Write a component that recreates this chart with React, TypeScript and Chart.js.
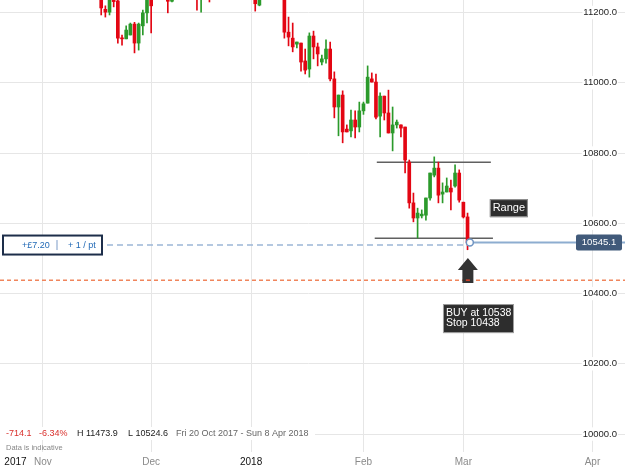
import React, { useEffect, useRef } from 'react';
import { Chart, registerables } from 'chart.js';

Chart.register(...registerables);

const FONT = "'Liberation Sans', Arial, Helvetica, sans-serif";

// Daily candles, Fri 20 Oct 2017 onwards (one slot per trading session)
const opens = [
  11259.2, 11290, 11326, 11312, 11365, 11394, 11380, 11420, 11452, 11430,
  11405, 11422, 11392, 11366, 11388, 11350, 11322, 11346, 11315, 11332,
  11294, 11308, 11275, 11288, 11278, 11209, 11201, 11248, 11233, 11127,
  11125, 11136, 11167, 11113, 11162, 11199, 11262, 11250, 11282, 11298,
  11265, 11232, 11276, 11312, 11302, 11334, 11310, 11280, 11248, 11285,
  11305, 11252, 11290, 11326, 11318, 11336, 11355, 11342, 11312, 11288,
  11270, 11262, 11221, 11268, 11300, 11282, 11315, 11292, 11262, 11144,
  11127, 11110, 11113, 11062, 11039, 11133, 11102, 11059, 11068, 11096,
  11011, 10931, 10965, 10868, 10863, 10894, 10874, 10920, 10942, 11011,
  11002, 10905, 10962, 10914, 10857, 10880, 10880, 10874, 10774, 10658,
  10615, 10621, 10623, 10672, 10737, 10757, 10683, 10689, 10700, 10706,
  10743, 10660, 10618,
];
const highs = [
  11298, 11335, 11345, 11372, 11402, 11410, 11428, 11473.9, 11465, 11442,
  11430, 11436, 11410, 11395, 11398, 11362, 11355, 11360, 11340, 11344,
  11318, 11315, 11296, 11300, 11284, 11219, 11262, 11258, 11245, 11136,
  11162, 11170, 11172, 11170, 11207, 11268, 11275, 11290, 11310, 11305,
  11278, 11285, 11320, 11330, 11340, 11352, 11322, 11296, 11290, 11318,
  11310, 11298, 11335, 11350, 11342, 11368, 11372, 11356, 11330, 11305,
  11285, 11270, 11280, 11312, 11318, 11325, 11330, 11300, 11270, 11187,
  11170, 11116, 11113, 11096, 11142, 11147, 11113, 11079, 11122, 11116,
  11031, 10965, 10977, 10880, 10922, 10920, 10945, 10945, 11048, 11028,
  11025, 10971, 10962, 10979, 10931, 10894, 10880, 10874, 10780, 10686,
  10643, 10638, 10672, 10743, 10789, 10774, 10715, 10729, 10723, 10766,
  10752, 10660, 10629,
];
const lows = [
  11248, 11282, 11300, 11305, 11350, 11368, 11372, 11410, 11418, 11392,
  11390, 11380, 11352, 11355, 11340, 11310, 11315, 11302, 11296, 11285,
  11270, 11262, 11255, 11258, 11193, 11187, 11193, 11216, 11113, 11107,
  11125, 11136, 11085, 11093, 11136, 11170, 11142, 11242, 11262, 11255,
  11199, 11230, 11265, 11290, 11295, 11300, 11268, 11207, 11201, 11270,
  11230, 11245, 11282, 11305, 11296, 11320, 11330, 11300, 11276, 11258,
  11245, 11204, 11219, 11255, 11268, 11270, 11280, 11250, 11127, 11105,
  11088, 11099, 11033, 11025, 11016, 11068, 11048, 11051, 11056, 11005,
  10900, 10849, 10829, 10860, 10846, 10843, 10860, 10910, 10942, 11002,
  10897, 10846, 10894, 10857, 10806, 10871, 10846, 10743, 10643, 10604,
  10558, 10615, 10609, 10666, 10732, 10658, 10658, 10689, 10638, 10703,
  10660, 10615, 10524.6,
];
const closes = [
  11290, 11326, 11312, 11365, 11394, 11380, 11420, 11452, 11430, 11405,
  11422, 11392, 11366, 11388, 11350, 11322, 11346, 11315, 11332, 11294,
  11308, 11275, 11288, 11278, 11213, 11201, 11250, 11231, 11127, 11125,
  11150, 11167, 11113, 11167, 11199, 11255, 11219, 11282, 11298, 11265,
  11232, 11276, 11312, 11302, 11334, 11310, 11280, 11248, 11285, 11305,
  11252, 11290, 11326, 11318, 11336, 11355, 11342, 11312, 11288, 11270,
  11262, 11225, 11268, 11300, 11282, 11315, 11292, 11262, 11144, 11130,
  11102, 11116, 11059, 11036, 11133, 11102, 11082, 11068, 11096, 11011,
  10931, 10965, 10860, 10860, 10894, 10874, 10920, 10940, 11016, 11002,
  10902, 10962, 10914, 10857, 10880, 10888, 10871, 10780, 10658, 10615,
  10629, 10626, 10672, 10743, 10757, 10680, 10689, 10706, 10689, 10743,
  10666, 10618, 10545.1,
];

const xTickPositions = [3.4, 10, 36, 60, 87, 111, 142];
const xTickLabels = ['2017', 'Nov', 'Dec', '2018', 'Feb', 'Mar', 'Apr'];
const yTickValues = [10000, 10200, 10400, 10600, 10800, 11000, 11200];

const lastPrice = 10545.1;
const buyPrice = 10538;
const stopPrice = 10438;
const rangeHigh = 10774;
const rangeLow = 10557;
const rangeHighSpan = [90.2, 117.6];
const rangeLowSpan = [89.7, 118.1];
const markerIndex = 112.55;
const arrowIndex = 112.08;
const arrowTipPrice = 10501;
const arrowBasePrice = 10430;
const rangeLabelAt = [117.36, 10643];
const buyLabelAt = [106.1, 10370];

const rangeLabel = 'Range';
const buyLines = ['BUY at 10538', 'Stop 10438'];
const profitText = '+£7.20';
const stakeText = '+ 1 / pt';
const infoItems = [
  { text: '-714.1', color: '#d9302c' },
  { text: '-6.34%', color: '#d9302c' },
  { text: 'H 11473.9', color: '#1c1c1c' },
  { text: 'L 10524.6', color: '#1c1c1c' },
  { text: 'Fri 20 Oct 2017 - Sun 8 Apr 2018', color: '#666666' },
];
const infoX = [6, 39, 77, 128, 176];
const disclaimer = 'Data is indicative';

const RED = '#e30613';
const GREEN = '#2b9a2b';

function rr(ctx: any, x: number, y: number, w: number, h: number, r: number) {
  ctx.beginPath();
  ctx.moveTo(x + r, y);
  ctx.lineTo(x + w - r, y);
  ctx.quadraticCurveTo(x + w, y, x + w, y + r);
  ctx.lineTo(x + w, y + h - r);
  ctx.quadraticCurveTo(x + w, y + h, x + w - r, y + h);
  ctx.lineTo(x + r, y + h);
  ctx.quadraticCurveTo(x, y + h, x, y + h - r);
  ctx.lineTo(x, y + r);
  ctx.quadraticCurveTo(x, y, x + r, y);
  ctx.closePath();
}

const overlay = {
  id: 'overlay',
  beforeDatasetsDraw(chart: any) {
    const { ctx } = chart;
    const x = chart.scales.x;
    const y = chart.scales.y;
    ctx.save();
    // stop line
    const sy = y.getPixelForValue(stopPrice);
    ctx.strokeStyle = '#f0855c';
    ctx.lineWidth = 1.5;
    ctx.setLineDash([4, 3]);
    ctx.beginPath();
    ctx.moveTo(0, sy);
    ctx.lineTo(chart.width, sy);
    ctx.stroke();
    // position dashed line
    const by = y.getPixelForValue(buyPrice);
    const mx = x.getPixelForValue(markerIndex);
    ctx.strokeStyle = '#9cb6d6';
    ctx.lineWidth = 1.5;
    ctx.setLineDash([6, 4]);
    ctx.beginPath();
    ctx.moveTo(107, by);
    ctx.lineTo(mx, by);
    ctx.stroke();
    // current price solid line
    const ly = y.getPixelForValue(lastPrice);
    ctx.setLineDash([]);
    ctx.strokeStyle = '#8dadd0';
    ctx.lineWidth = 2;
    ctx.beginPath();
    ctx.moveTo(mx, ly);
    ctx.lineTo(chart.width, ly);
    ctx.stroke();
    // range lines
    ctx.strokeStyle = '#606060';
    ctx.lineWidth = 1.5;
    const ry1 = y.getPixelForValue(rangeHigh);
    ctx.beginPath();
    ctx.moveTo(x.getPixelForValue(rangeHighSpan[0]), ry1);
    ctx.lineTo(x.getPixelForValue(rangeHighSpan[1]), ry1);
    ctx.stroke();
    const ry2 = y.getPixelForValue(rangeLow);
    ctx.beginPath();
    ctx.moveTo(x.getPixelForValue(rangeLowSpan[0]), ry2);
    ctx.lineTo(x.getPixelForValue(rangeLowSpan[1]), ry2);
    ctx.stroke();
    ctx.restore();
  },
  afterDatasetsDraw(chart: any) {
    const { ctx } = chart;
    const x = chart.scales.x;
    const y = chart.scales.y;
    ctx.save();
    ctx.textBaseline = 'middle';
    // marker circle
    const mx = x.getPixelForValue(markerIndex);
    const ly = y.getPixelForValue(lastPrice);
    ctx.beginPath();
    ctx.arc(mx, ly, 3.5, 0, Math.PI * 2);
    ctx.fillStyle = '#ffffff';
    ctx.fill();
    ctx.strokeStyle = '#6f94c2';
    ctx.lineWidth = 1.5;
    ctx.stroke();

    // position box
    const by = y.getPixelForValue(buyPrice);
    ctx.fillStyle = '#ffffff';
    ctx.fillRect(3, by - 9.5, 99, 19);
    ctx.strokeStyle = '#1d2e4a';
    ctx.lineWidth = 2;
    ctx.strokeRect(3, by - 9.5, 99, 19);
    ctx.font = `9px ${FONT}`;
    ctx.fillStyle = '#1f68b5';
    ctx.textAlign = 'left';
    ctx.fillText(profitText, 22, by);
    ctx.fillText(stakeText, 68, by);
    ctx.fillStyle = '#7d9cc7';
    ctx.fillRect(56.5, by - 5, 1, 10);

    // price label
    const pw = 46;
    const px = chart.width - 3 - pw;
    rr(ctx, px, ly - 8, pw, 16, 2);
    ctx.fillStyle = '#415a7a';
    ctx.fill();
    ctx.fillStyle = '#ffffff';
    ctx.font = `9.5px ${FONT}`;
    ctx.textAlign = 'center';
    ctx.fillText(lastPrice.toFixed(1), px + pw / 2, ly);

    // arrow
    const ax = x.getPixelForValue(arrowIndex);
    const tipY = y.getPixelForValue(arrowTipPrice);
    const baseY = y.getPixelForValue(arrowBasePrice);
    ctx.fillStyle = '#333333';
    ctx.beginPath();
    ctx.moveTo(ax, tipY);
    ctx.lineTo(ax + 10, tipY + 12);
    ctx.lineTo(ax + 5.5, tipY + 12);
    ctx.lineTo(ax + 5.5, baseY);
    ctx.lineTo(ax - 5.5, baseY);
    ctx.lineTo(ax - 5.5, tipY + 12);
    ctx.lineTo(ax - 10, tipY + 12);
    ctx.closePath();
    ctx.fill();
    const sy = y.getPixelForValue(stopPrice);
    ctx.strokeStyle = '#d9442a';
    ctx.lineWidth = 1.5;
    ctx.beginPath();
    ctx.moveTo(ax - 2, sy);
    ctx.lineTo(ax + 2, sy);
    ctx.stroke();

    // Range label
    const rx = x.getPixelForValue(rangeLabelAt[0]);
    const rcy = y.getPixelForValue(rangeLabelAt[1]);
    ctx.fillStyle = '#2d2d2d';
    ctx.fillRect(rx, rcy - 9, 38, 18);
    ctx.strokeStyle = '#9a9a9a';
    ctx.lineWidth = 1;
    ctx.strokeRect(rx + 0.5, rcy - 8.5, 37, 17);
    ctx.fillStyle = '#ffffff';
    ctx.font = `11px ${FONT}`;
    ctx.textAlign = 'center';
    ctx.fillText(rangeLabel, rx + 19, rcy);

    // BUY label
    const bx = x.getPixelForValue(buyLabelAt[0]);
    const bty = y.getPixelForValue(buyLabelAt[1]);
    ctx.fillStyle = '#2d2d2d';
    ctx.fillRect(bx, bty, 71, 29);
    ctx.strokeStyle = '#a0a0a0';
    ctx.strokeRect(bx + 0.5, bty + 0.5, 70, 28);
    ctx.fillStyle = '#ffffff';
    ctx.font = `10.5px ${FONT}`;
    ctx.textAlign = 'left';
    ctx.fillText(buyLines[0], bx + 3, bty + 9);
    ctx.fillText(buyLines[1], bx + 3, bty + 19);

    // info row
    ctx.fillStyle = '#ffffff';
    ctx.fillRect(0, 427, 315, 13);
    ctx.font = `9px ${FONT}`;
    ctx.textAlign = 'left';
    infoItems.forEach((it, i) => {
      ctx.fillStyle = it.color;
      ctx.fillText(it.text, infoX[i], 433.5);
    });
    ctx.font = `7.5px ${FONT}`;
    ctx.fillStyle = '#888888';
    ctx.fillText(disclaimer, 6, 448);
    ctx.restore();
  },
};

export default function App() {
  const ref = useRef<HTMLCanvasElement>(null);
  useEffect(() => {
    document.body.style.margin = '0';
    const idx = opens.map((_, i) => i);
    const colors = idx.map((i) => (closes[i] > opens[i] ? GREEN : RED));
    const wickData = idx.map((i) => ({ x: i, y: [lows[i], highs[i]] }));
    const bodyData = idx.map((i) => ({ x: i, y: [opens[i], closes[i]] }));
    Chart.defaults.font.family = FONT;
    const chart = new Chart(ref.current as HTMLCanvasElement, {
      type: 'bar',
      data: {
        datasets: [
          {
            label: 'wick',
            data: wickData as any,
            backgroundColor: colors,
            barThickness: 1,
            grouped: false,
            order: 1,
            borderWidth: 0,
          } as any,
          {
            label: 'body',
            data: bodyData as any,
            backgroundColor: colors,
            barThickness: 3,
            minBarLength: 1,
            grouped: false,
            order: 0,
            borderWidth: 0,
          } as any,
        ],
      },
      options: {
        animation: false,
        responsive: true,
        maintainAspectRatio: false,
        devicePixelRatio: 1,
        events: [],
        layout: { padding: 0 },
        plugins: { legend: { display: false }, tooltip: { enabled: false } },
        scales: {
          x: {
            type: 'linear',
            min: -0.31,
            max: 147.9,
            offset: false,
            afterBuildTicks: (s: any) => {
              s.ticks = xTickPositions.map((v) => ({ value: v }));
            },
            afterFit: (s: any) => {
              s.height = 17;
              s.paddingLeft = 0;
              s.paddingRight = 0;
            },
            ticks: {
              autoSkip: false,
              maxRotation: 0,
              minRotation: 0,
              padding: 4,
              font: { size: 10 },
              color: (c: any) => (/^\d{4}$/.test(xTickLabels[c.index] || '') ? '#111111' : '#8a8a8a'),
              callback: (_v: any, i: number) => xTickLabels[i],
            },
            grid: {
              offset: false,
              color: (c: any) => (c.index === 0 ? 'rgba(0,0,0,0)' : '#e6e6e6'),
              drawTicks: false,
            },
            border: { display: false },
          },
          y: {
            type: 'linear',
            position: 'right',
            min: 9948.8,
            max: 11235.6,
            afterBuildTicks: (s: any) => {
              s.ticks = yTickValues.map((v) => ({ value: v }));
            },
            afterFit: (s: any) => {
              s.width = 8;
              s.paddingTop = 0;
              s.paddingBottom = 0;
            },
            ticks: {
              mirror: true,
              padding: 0,
              font: { size: 9.5 },
              color: '#1e1e1e',
              showLabelBackdrop: true,
              backdropColor: '#ffffff',
              backdropPadding: 1,
              callback: (v: any) => Number(v).toFixed(1),
            },
            grid: { color: '#e6e6e6', drawTicks: true, tickLength: 8 },
            border: { display: false },
          },
        },
      } as any,
      plugins: [overlay],
    });
    return () => chart.destroy();
  }, []);
  return (
    <div style={{ position: 'relative', width: 625, height: 469 }}>
      <canvas ref={ref} />
    </div>
  );
}
